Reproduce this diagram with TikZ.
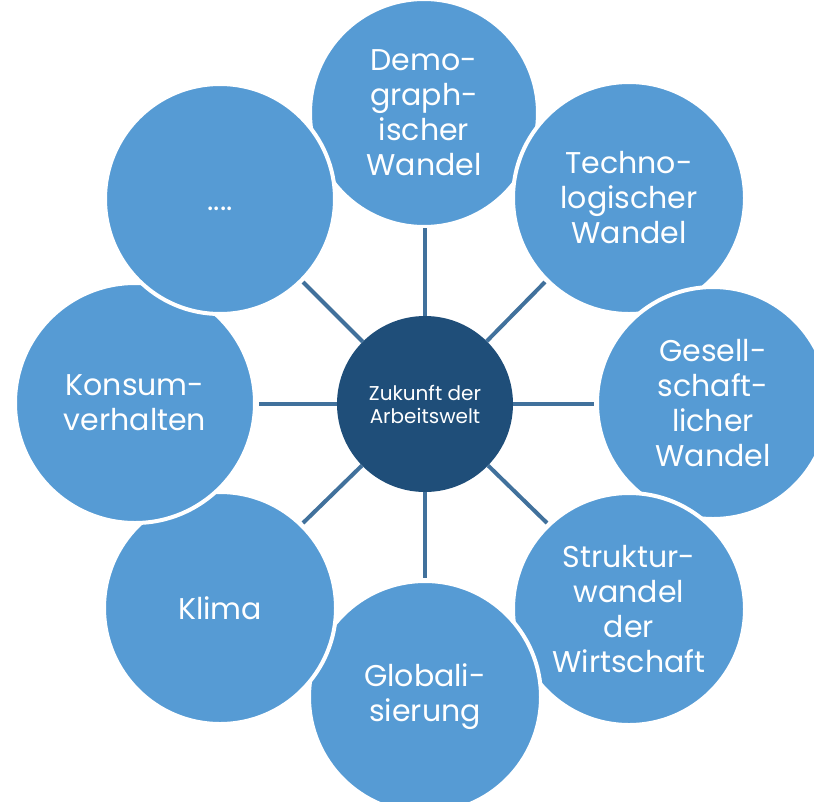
\documentclass[tikz,border=0pt]{standalone}
\usepackage{fontspec}
\setmainfont{Poppins}
\definecolor{bub}{HTML}{569BD4}
\definecolor{hubc}{HTML}{1F4E79}
\definecolor{spokec}{HTML}{41719C}
\begin{document}
\begin{tikzpicture}[x=1pt,y=-1pt,
  bubble/.style={circle, fill=bub, draw=white, line width=4pt, minimum size=232pt,
    inner sep=0pt, text=white, align=center, font=\fontsize{30}{35}\selectfont},
  hubnode/.style={circle, fill=hubc, minimum size=176pt, inner sep=0pt, text=white,
    align=center, font=\fontsize{20}{23}\selectfont},
  spokeline/.style={draw=spokec, line width=4pt}]
\useasboundingbox (0,0) rectangle (814,801);
\node[bubble, minimum size=228pt] (demo) at (424,113) {Demo-\\graph-\\ischer\\Wandel};
\node[bubble] (tech) at (629,198) {Techno-\\logischer\\Wandel};
\node[bubble] (gesell) at (713,403) {Gesell-\\schaft-\\licher\\Wandel};
\node[bubble] (struk) at (629,609) {Struktur-\\wandel\\der\\Wirtschaft};
\node[bubble] (glob) at (425,697) {Globali-\\sierung};
\node[bubble] (klima) at (220,608) {Klima};
\node[bubble, minimum size=240pt] (konsum) at (135,403) {Konsum-\\verhalten};
\node[bubble, minimum size=230pt] (dots) at (220,199) {\vphantom{Kl}....};
\node[hubnode] (hub) at (425,404) {Zukunft der\\Arbeitswelt};
\coordinate (e1) at (425,228);
\coordinate (e2) at (545,282);
\coordinate (e3) at (594,404);
\coordinate (e4) at (547,523);
\coordinate (e5) at (425,578);
\coordinate (e6) at (303,523);
\coordinate (e7) at (259,404);
\coordinate (e8) at (303,282);
\foreach \e in {e1,e2,e3,e4,e5,e6,e7,e8}
  \path[spokeline] (hub) -- (\e);
\end{tikzpicture}
\end{document}
